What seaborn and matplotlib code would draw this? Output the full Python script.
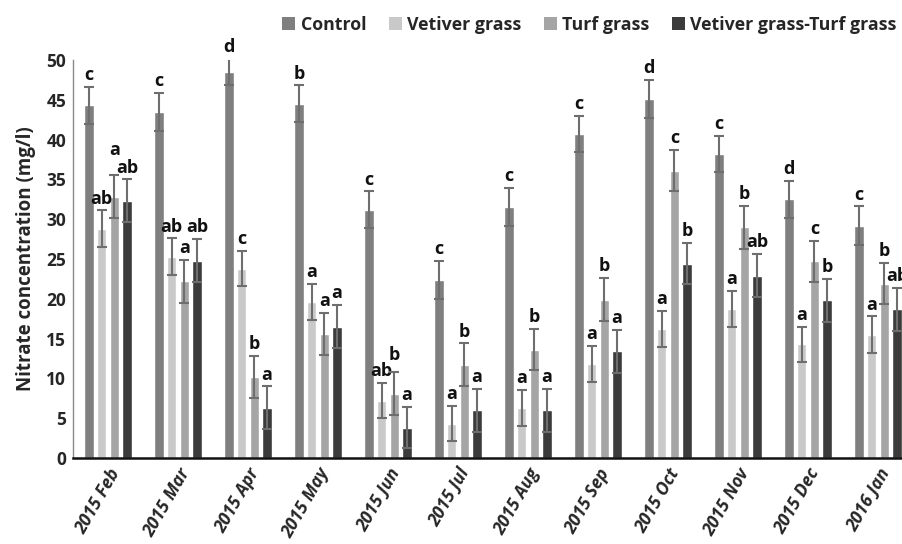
import matplotlib
matplotlib.use('Agg')
import matplotlib.pyplot as plt
from matplotlib.patches import Patch
import seaborn as sns
import pandas as pd

# data
months = ['2015 Feb', '2015 Mar', '2015 Apr', '2015 May', '2015 Jun', '2015 Jul',
          '2015 Aug', '2015 Sep', '2015 Oct', '2015 Nov', '2015 Dec', '2016 Jan']
treatments = ['Control', 'Vetiver grass', 'Turf grass', 'Vetiver grass-Turf grass']

control = [44.3, 43.5, 48.5, 44.5, 31.2, 22.4, 31.5, 40.7, 45.1, 38.2, 32.5, 29.2]
vetiver = [28.8, 25.3, 23.8, 19.6, 7.2, 4.3, 6.3, 11.8, 16.2, 18.7, 14.3, 15.5]
turf = [32.8, 22.2, 10.2, 15.6, 8.1, 11.7, 13.6, 19.9, 36.1, 29.0, 24.7, 21.9]
vet_turf = [32.3, 24.8, 6.3, 16.5, 3.8, 6.0, 6.0, 13.4, 24.4, 22.9, 19.8, 18.7]

err_control = [2.3, 2.4, 1.6, 2.3, 2.3, 2.4, 2.4, 2.3, 2.4, 2.3, 2.3, 2.4]
err_vetiver = [2.3, 2.3, 2.2, 2.3, 2.2, 2.2, 2.3, 2.3, 2.3, 2.3, 2.2, 2.3]
err_turf = [2.7, 2.7, 2.6, 2.6, 2.7, 2.7, 2.6, 2.7, 2.6, 2.7, 2.6, 2.6]
err_vet_turf = [2.7, 2.7, 2.7, 2.7, 2.6, 2.7, 2.7, 2.7, 2.6, 2.7, 2.7, 2.7]

let_control = ['c', 'c', 'd', 'b', 'c', 'c', 'c', 'c', 'd', 'c', 'd', 'c']
let_vetiver = ['ab', 'ab', 'c', 'a', 'ab', 'a', 'a', 'a', 'a', 'a', 'a', 'a']
let_turf = ['a', 'a', 'b', 'a', 'b', 'b', 'b', 'b', 'c', 'b', 'c', 'b']
let_vet_turf = ['ab', 'ab', 'a', 'a', 'a', 'a', 'a', 'a', 'b', 'ab', 'b', 'ab']

colors = ['#7f7f7f', '#c9c9c9', '#a5a5a5', '#3b3b3b']

values = [control, vetiver, turf, vet_turf]
errors = [err_control, err_vetiver, err_turf, err_vet_turf]
letters = [let_control, let_vetiver, let_turf, let_vet_turf]

# a couple of letters sit higher in the original so they don't collide
# (treatment index, month index) -> extra lift in points
lift = {(2, 0): 10, (2, 4): 4}

rows = []
for t, vals in zip(treatments, values):
    for m, v in zip(months, vals):
        rows.append({'Month': m, 'Treatment': t, 'Nitrate': v})
df = pd.DataFrame(rows)

sns.set_style('white')
plt.rcParams['font.family'] = ['Open Sans', 'DejaVu Sans']

fig = plt.figure(figsize=(9.02, 5.44), dpi=100)
# axes run past the right edge, like the cropped original
ax = fig.add_axes([73 / 902, 86 / 544, 840 / 902, 398 / 544])

sns.barplot(data=df, x='Month', y='Nitrate', hue='Treatment', order=months,
            hue_order=treatments, palette=colors, width=0.73, gap=0.26,
            errorbar=None, saturation=1, ax=ax)
ax.get_legend().remove()

for i, (cont, errs, lets) in enumerate(zip(ax.containers, errors, letters)):
    xs = [b.get_x() + b.get_width() / 2 for b in cont]
    hs = [b.get_height() for b in cont]
    ax.errorbar(xs, hs, yerr=errs, fmt='none', ecolor='#6e6e6e',
                elinewidth=1.5, capsize=3.6, capthick=1.5, zorder=3)
    for j, (x, h, e, l) in enumerate(zip(xs, hs, errs, lets)):
        dy = 2 + lift.get((i, j), 0)
        ax.annotate(l, (x, h + e), xytext=(0, dy), textcoords='offset points',
                    ha='center', va='bottom', fontsize=13, fontweight='bold',
                    color='#111111', annotation_clip=False)

ax.set_xlim(-0.5, 11.5)
ax.set_ylim(0, 50)
ax.set_yticks(range(0, 51, 5))
ax.tick_params(axis='both', length=0, pad=5)
for lab in ax.get_yticklabels():
    lab.set_fontsize(12.5)
    lab.set_fontweight('bold')
ax.set_xticks(range(len(months)))
ax.set_xticklabels(months, rotation=60, ha='right', rotation_mode='anchor',
                   fontsize=12.5, fontweight='bold', fontstyle='italic')
ax.set_xlabel('')
ax.set_ylabel('Nitrate concentration (mg/l)', fontsize=13.5, fontweight='bold',
              labelpad=7)

ax.spines['top'].set_visible(False)
ax.spines['right'].set_visible(False)
ax.spines['left'].set_color('#8a8a8a')
ax.spines['left'].set_linewidth(1.0)
ax.spines['bottom'].set_color('#111111')
ax.spines['bottom'].set_linewidth(1.8)

handles = [Patch(facecolor=c, edgecolor='none') for c in colors]
fig.legend(handles, treatments, loc='upper left', bbox_to_anchor=(266 / 902, 1.0),
           ncol=4, frameon=False, handlelength=0.75, handleheight=0.75,
           handletextpad=0.3, columnspacing=1.25,
           prop={'family': 'Open Sans', 'weight': 'bold', 'size': 12.8})

fig.savefig('out.png', dpi=100)
